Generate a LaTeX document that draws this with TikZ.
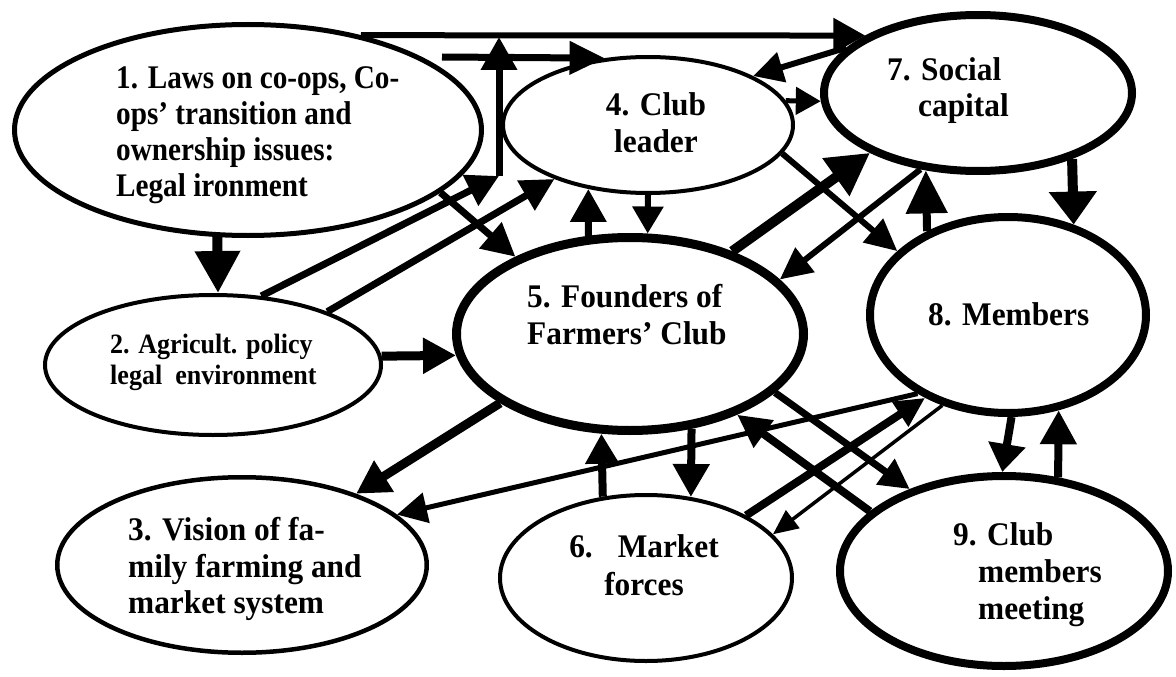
\documentclass[tikz,border=0pt]{standalone}
\usepackage{fontspec}
\setmainfont{Liberation Serif}
\newfontfamily\condf[FakeStretch=0.885]{Liberation Serif}
\newfontfamily\condg[FakeStretch=0.93]{Liberation Serif}
\newfontfamily\condh[FakeStretch=0.95]{Liberation Serif}
\usetikzlibrary{shapes.geometric,arrows.meta}
\begin{document}
\begin{tikzpicture}[x=1pt,y=-1pt,
  el/.style={ellipse, draw, inner sep=0pt},
  conn/.style n args={3}{line width=#1pt, -{Triangle[length=#2pt,width=#3pt]}},
  tx/.style={inner sep=0pt, align=left},
  big/.style={font=\condh\bfseries\fontsize{33}{37}\selectfont}]
\useasboundingbox (0,0) rectangle (1176,677);
% ellipses
\node[el, line width=5pt, minimum width=467pt, minimum height=211pt] (n1) at (248,130) {};
\node[el, line width=4pt, minimum width=336pt, minimum height=140pt] (n2) at (213,365) {};
\node[el, line width=4.5pt, minimum width=369.5pt, minimum height=175.5pt] (n3) at (242,565) {};
\node[el, line width=4pt, minimum width=290pt, minimum height=136pt] (n4) at (648,125) {};
\node[el, line width=9pt, minimum width=347pt, minimum height=193pt] (n5) at (630,334) {};
\node[el, line width=4pt, minimum width=292pt, minimum height=166pt] (n6) at (646,578) {};
\node[el, line width=8pt, minimum width=308pt, minimum height=156pt] (n7) at (978,93) {};
\node[el, line width=8pt, minimum width=276pt, minimum height=196pt] (n8) at (1008,315) {};
\node[el, line width=8pt, minimum width=328pt, minimum height=190pt] (n9) at (1004,571) {};
% texts
\node[tx, anchor=north west, font=\condf\bfseries\fontsize{33}{36}\selectfont] (t1) at (116,66.5)
  {1. Laws on co-ops, Co-\\ops’ transition and\\ownership issues:\\Legal ironment};
\node[tx, anchor=north west, font=\condg\bfseries\fontsize{28}{31}\selectfont] (t2) at (110,334)
  {2. Agricult. policy\\legal\ \ environment};
\node[tx, anchor=north west, font=\condh\bfseries\fontsize{33}{36.5}\selectfont] (t3) at (128,517.5)
  {3. Vision of fa-\\mily farming and\\market system};
\node[tx, big, anchor=north, align=center] (t4) at (656,92.5) {4. Club\\leader};
\node[tx, big, anchor=north west] (t5) at (527,284.5) {5. Founders of\\Farmers’ Club};
\node[tx, anchor=north, align=center, font=\condh\bfseries\fontsize{33}{38}\selectfont] (t6) at (644,534.5)
  {6.\hspace*{25pt}Market\\forces};
\node[tx, anchor=north west, font=\condh\bfseries\fontsize{33}{36}\selectfont] (t7) at (887,57.5)
  {7. Social\\\hspace*{31pt}capital};
\node[tx, big, anchor=north west] (t8) at (928,302.5) {8. Members};
\node[tx, big, anchor=north west] (t9) at (953,522.5)
  {9. Club\\\hspace*{25pt}members\\\hspace*{25pt}meeting};
% free ends
\coordinate (P) at (499,176);
\coordinate (Q) at (499,37);
\coordinate (R) at (442,57);
% connectors
\draw[conn={10}{42}{43}] (n1.254) -- (n2.86);
\draw[conn={7}{33}{33}] (n1.-18) -- (n5.146);
\draw[conn={7}{32}{33}] (n2.55) -- (P);
\draw[conn={7}{33}{35}] (P) -- (Q);
\draw[conn={7}{33}{33}] (n2.25) -- (n4.210);
\draw[conn={7}{35}{32}] (R) -- (n4.123);
\draw[conn={6}{32}{34}] (n1.40) -- (n7.153);
\draw[conn={7}{33}{35}] (n5.113) -- (n4.227);
\draw[conn={6}{27}{30}] (n4.south) -- (n5.80);
\draw[conn={6}{30}{30}] (n7.161) -- (n4.25);
\draw[conn={5}{25}{27}] (n4.10) -- (n7.183);
\draw[conn={10}{42}{44}] (n5.39) -- (n7.209);
\draw[conn={6}{32}{30}] (n7.233) -- (n5.20);
\draw[conn={6}{32}{30}] (n4.-12) -- (n8.150);
\draw[conn={8}{43}{40}] (n8.134) -- (n7.236);
\draw[conn={10}{33}{46}] (n7.-35) -- (n8.54);
\draw[conn={8}{28}{36}] (n8.-88) -- (n9.91);
\draw[conn={8}{34}{35}] (n9.60) -- (n8.-62);
\draw[conn={7}{30}{30}] (n5.-22) -- (n9.139);
\draw[conn={8}{33}{32}] (n9.156) -- (n5.-37);
\draw[conn={8}{30}{28}] (n6.32) -- (n8.225);
\draw[conn={3.5}{25}{22}] (n8.234) -- (n6.19);
\draw[conn={5}{30}{30}] (n8.221) -- (n3.18);
\draw[conn={8}{30}{32}] (n6.118) -- (n5.254);
\draw[conn={8}{33}{35}] (n5.-57) -- (n6.61);
\draw[conn={9}{33}{35}] (n5.208) -- (n3.32);
\draw[conn={9}{33}{34}] (n2.3) -- (n5.187);
\end{tikzpicture}
\end{document}
